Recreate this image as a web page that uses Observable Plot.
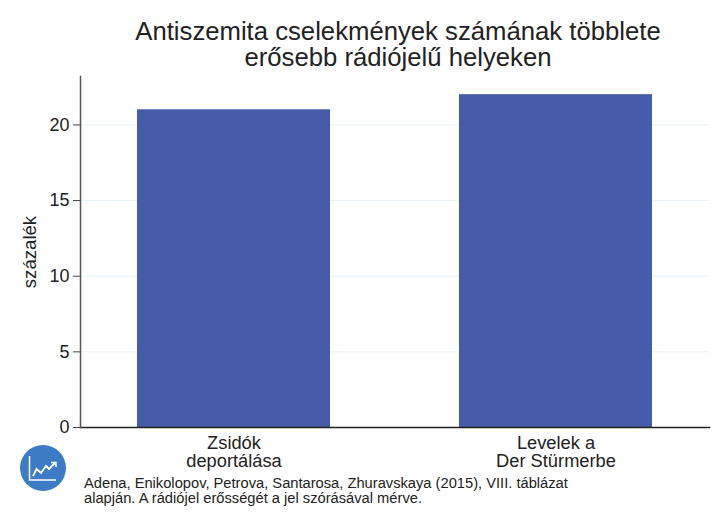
<!DOCTYPE html>
<html><head><meta charset="utf-8">
<script src="https://cdn.jsdelivr.net/npm/d3@7"></script>
<script src="https://cdn.jsdelivr.net/npm/@observablehq/plot@0.6"></script>
<style>
html,body{margin:0;padding:0;background:#fff;width:727px;height:529px;overflow:hidden;font-family:"Liberation Sans",Arial,sans-serif;color:#222}
#wrap{position:relative;width:727px;height:529px}
#title{position:absolute;left:88px;width:620px;top:18px;text-align:center;font-size:25.7px;line-height:26px;white-space:nowrap}
#chart{position:absolute;left:0;top:0}
#cap{position:absolute;left:84px;top:476px;font-size:14.7px;line-height:15px;white-space:nowrap}
#icon{position:absolute;left:20px;top:445px}
</style></head><body><div id="wrap">
<div id="chart"></div>
<div id="title">Antiszemita cselekmények számának többlete<br>erősebb rádiójelű helyeken</div>
<svg id="icon" width="46" height="46" viewBox="0 0 46 46"><circle cx="23" cy="23" r="23" fill="#3d7cc4"/><path d="M9.5 11V35H36" fill="none" stroke="#fff" stroke-width="1.5"/><path d="M13 31L16.5 24L21 28L26 21L29 24L35 18" fill="none" stroke="#fff" stroke-width="1.8"/><path d="M31 17.5H36V22" fill="none" stroke="#fff" stroke-width="1.5"/></svg>
<div id="cap">Adena, Enikolopov, Petrova, Santarosa, Zhuravskaya (2015), VIII. táblázat<br>alapján. A rádiójel erősségét a jel szórásával mérve.</div>
</div>
<script>
const categories = ["Zsidók\ndeportálása", "Levelek a\nDer Stürmerbe"];
const values = [21, 22];
const yTicks = [0, 5, 10, 15, 20];
const yLabel = "százalék";
const rows = categories.map((c, i) => ({c, v: values[i]}));
const p = Plot.plot({
  width: 727, height: 529,
  marginLeft: 80, marginRight: 18, marginTop: 76, marginBottom: 102,
  style: {fontFamily: '"Liberation Sans",Arial,sans-serif', fontSize: "18px", color: "#222", background: "transparent"},
  x: {domain: categories, paddingInner: 0.4, paddingOuter: 0.175, align: 0.5, label: null},
  y: {domain: [0, 23.2], label: null},
  marks: [
    Plot.gridY(yTicks, {stroke: "#e8f2f7", strokeOpacity: 1, strokeWidth: 1}),
    Plot.barY(rows, {x: "c", y: "v", fill: "#465ca8"}),
    Plot.axisY(yTicks, {tickSize: 7, tickPadding: 4, fontSize: 18, label: null, stroke: "#444", strokeOpacity: 1}),
    Plot.axisX({tickSize: 0, tickPadding: 8, fontSize: 18.3, lineHeight: 1.02, label: null}),
    Plot.frame({anchor: "bottom", stroke: "#222", strokeWidth: 1.5}),
    Plot.frame({anchor: "left", stroke: "#555", strokeWidth: 1.5}),
    Plot.text([yLabel], {frameAnchor: "left", textAnchor: "middle", dx: -50, rotate: -90, fontSize: 18.6, fill: "#222"})
  ]
});
document.getElementById("chart").append(p);
</script></body></html>
